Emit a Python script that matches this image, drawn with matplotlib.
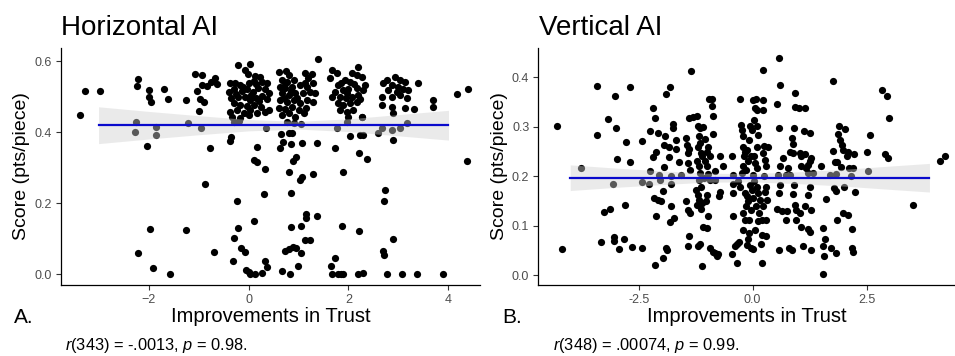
import numpy as np
import matplotlib.pyplot as plt

plt.rcParams['font.family'] = ['Liberation Sans', 'DejaVu Sans']
plt.rcParams['mathtext.fontset'] = 'custom'
plt.rcParams['mathtext.rm'] = 'Liberation Sans'
plt.rcParams['mathtext.it'] = 'Liberation Sans:italic'

# ---- Horizontal AI: (improvement in trust, score) ----
horiz_left = [
    (-3.37, .449), (-3.27, .516), (-2.98, .516), (-2.21, .550), (-2.23, .531),
    (-2.25, .430), (-2.27, .402), (-2.21, .059), (-1.99, .518), (-1.99, .500),
    (-1.95, .486), (-2.03, .360), (-1.98, .128), (-1.91, .016), (-1.86, .414),
    (-1.86, .392), (-1.69, .521), (-1.62, .493), (-1.58, .000), (-1.25, .492),
    (-1.21, .427), (-1.25, .125), (-1.07, .564), (-0.93, .561), (-1.03, .517),
    (-0.93, .533), (-0.99, .461), (-0.98, .493), (-0.89, .486), (-0.95, .412),
    (-0.78, .356), (-0.87, .253), (-0.83, .530), (-0.75, .543), (-0.67, .553),
    (-0.63, .536), (-0.70, .063),
]
horiz_c0 = [
    (-0.22, .590), (0.03, .594), (-0.07, .577), (-0.01, .564), (0.13, .559),
    (0.22, .557), (0.27, .543), (-0.37, .538), (-0.27, .540), (-0.17, .533),
    (0.00, .538), (0.10, .546), (0.37, .538), (-0.40, .515), (-0.30, .521),
    (-0.13, .517), (-0.03, .521), (0.08, .515), (0.19, .524), (0.32, .521),
    (0.40, .510), (-0.35, .496), (-0.21, .500), (-0.07, .500), (0.03, .491),
    (0.15, .496), (0.27, .502), (0.37, .493), (-0.30, .482), (-0.17, .477),
    (-0.03, .474), (0.10, .477), (0.25, .472), (-0.37, .458), (-0.23, .463),
    (-0.10, .455), (0.03, .463), (0.17, .454), (0.33, .458), (0.40, .463),
    (-0.33, .444), (-0.17, .439), (0.00, .449), (-0.30, .430), (-0.20, .433),
    (-0.12, .528), (0.05, .506), (0.21, .488), (-0.25, .508), (0.14, .536),
    (-0.35, .388), (-0.37, .375), (0.17, .358), (0.11, .322), (0.17, .315),
    (0.33, .296), (0.30, .226), (-0.23, .205), (0.10, .151), (-0.21, .131),
    (-0.30, .101), (-0.15, .073), (-0.07, .062), (-0.31, .038), (-0.05, .012),
    (0.00, .005), (0.13, .000), (0.02, .000), (0.27, .003), (0.33, .038),
    (0.37, .019), (0.35, .411),
]
horiz_c1 = [
    (0.60, .571), (0.75, .574), (0.81, .562), (0.67, .547), (0.77, .543),
    (0.90, .547), (1.13, .566), (1.27, .564), (1.20, .552), (1.40, .608),
    (0.63, .529), (0.73, .524), (0.87, .529), (1.03, .533), (1.17, .529),
    (1.30, .538), (0.67, .510), (0.80, .505), (0.93, .512), (1.08, .510),
    (1.23, .515), (1.33, .510), (0.63, .491), (0.77, .486), (0.90, .491),
    (1.03, .484), (1.17, .491), (1.30, .486), (0.60, .468), (0.73, .465),
    (0.87, .470), (1.00, .463), (1.15, .468), (0.67, .449), (0.80, .454),
    (0.93, .444), (1.10, .454), (0.77, .430), (0.90, .427), (1.05, .423),
    (0.70, .497), (0.84, .517), (0.97, .498), (1.12, .540), (0.72, .538),
    (0.65, .395), (0.69, .374), (0.63, .355), (0.80, .399), (0.87, .397),
    (0.85, .367), (0.88, .320), (0.95, .330), (0.80, .289), (1.02, .266),
    (1.07, .273), (1.30, .283), (1.38, .371), (1.07, .369), (0.85, .230),
    (1.15, .170), (1.14, .158), (1.37, .164), (1.05, .136), (0.85, .134),
    (0.73, .064), (0.80, .070), (0.88, .075), (0.95, .073), (1.05, .059),
    (1.13, .097), (1.23, .097), (0.99, .023), (0.67, .010), (0.83, .000),
]
horiz_c2 = [
    (1.68, .576), (1.77, .566), (1.63, .552), (2.20, .585), (2.07, .566),
    (2.17, .562), (2.27, .557), (1.93, .547), (2.03, .543), (2.33, .533),
    (1.80, .533), (1.73, .515), (1.90, .519), (2.00, .521), (2.17, .524),
    (2.30, .519), (1.67, .500), (1.83, .500), (1.95, .496), (2.07, .500),
    (2.20, .505), (1.79, .482), (1.90, .477), (2.03, .482), (2.17, .486),
    (1.83, .463), (1.97, .458), (2.10, .463), (2.00, .444), (2.28, .444),
    (2.12, .535), (1.86, .540), (2.24, .494), (1.97, .510),
    (1.97, .430), (1.77, .411), (2.27, .442), (1.73, .355), (1.89, .289),
    (2.03, .390), (2.22, .343), (2.23, .392), (2.30, .392), (2.37, .324),
    (1.87, .136), (2.22, .122), (1.73, .045), (1.65, .022), (1.67, .000),
    (1.80, .000), (1.85, .000), (1.90, .000), (2.20, .000), (2.30, .003),
]
horiz_c3 = [
    (2.77, .547), (2.93, .557), (3.03, .547), (3.13, .543), (2.70, .538),
    (2.87, .533), (3.00, .529), (2.80, .519), (2.97, .515), (3.10, .521),
    (3.20, .519), (2.67, .500), (2.87, .500), (3.03, .505), (3.17, .496),
    (3.40, .538), (2.67, .477), (2.87, .472), (3.13, .468), (3.32, .465),
    (2.90, .454), (3.70, .491), (3.70, .472), (2.60, .397), (2.67, .411),
    (2.87, .407), (3.03, .411), (3.18, .425), (2.90, .378), (2.73, .236),
    (2.71, .205), (2.90, .099), (2.70, .064), (2.71, .054), (2.77, .000),
    (3.07, .000), (3.37, .000), (3.90, .000), (4.18, .507), (4.40, .521),
    (4.37, .319),
]

# ---- Vertical AI ----
vert_left = [
    (-4.28, .301), (-4.19, .053), (-3.76, .217), (-3.42, .283), (-3.41, .383),
    (-3.33, .067), (-3.26, .127), (-3.17, .316), (-3.13, .134), (-3.04, .077),
    (-3.04, .068), (-3.02, .362), (-3.00, .297), (-3.06, .184), (-2.97, .235),
    (-2.92, .053), (-2.81, .072), (-2.79, .141), (-2.78, .269), (-2.68, .380),
    (-2.69, .229), (-2.65, .056), (-2.43, .272), (-2.42, .055), (-2.42, .189),
    (-2.25, .292), (-2.26, .211), (-2.27, .185), (-2.19, .338), (-2.18, .239),
    (-2.14, .318), (-2.16, .155), (-2.08, .152), (-2.13, .021), (-2.11, .119),
    (-2.11, .250), (-2.08, .287), (-2.06, .203), (-2.03, .192), (-2.00, .149),
    (-1.97, .034), (-1.97, .171), (-1.94, .219), (-1.92, .281), (-1.95, .264),
    (-1.89, .055), (-1.87, .050), (-1.89, .366), (-1.81, .380), (-1.83, .260),
    (-1.83, .238), (-1.78, .200), (-1.78, .184), (-1.81, .107), (-1.78, .139),
    (-1.74, .306), (-1.74, .297), (-1.72, .116), (-1.67, .274), (-1.69, .256),
    (-1.62, .229), (-1.56, .202),
]
vert_cm1 = [
    (-1.36, .414), (-1.39, .318), (-1.30, .320), (-1.45, .277), (-1.43, .263),
    (-1.41, .248), (-1.39, .255), (-1.41, .227), (-1.37, .212), (-1.45, .149),
    (-1.41, .131), (-1.37, .125), (-1.39, .078), (-1.41, .058), (-1.23, .321),
    (-1.19, .302), (-1.15, .297), (-1.18, .282), (-1.15, .267), (-1.19, .260),
    (-1.13, .247), (-1.12, .240), (-1.21, .230), (-1.17, .220), (-1.15, .206),
    (-1.18, .193), (-1.14, .179), (-1.24, .173), (-1.19, .163), (-1.18, .152),
    (-1.12, .146), (-1.23, .142), (-1.14, .134), (-1.19, .059), (-1.15, .063),
    (-1.10, .018), (-1.08, .299), (-1.05, .275), (-0.97, .260), (-1.01, .250),
    (-0.94, .241), (-1.05, .230), (-0.99, .220), (-0.97, .205), (-1.07, .196),
    (-0.94, .193), (-1.01, .163), (-1.02, .149), (-0.97, .119), (-1.08, .097),
    (-0.99, .095), (-0.94, .055), (-0.86, .046), (-0.95, .356), (-0.88, .356),
    (-0.90, .343), (-0.86, .321), (-0.86, .285), (-0.83, .193), (-0.83, .045),
    (-0.79, .038), (-0.75, .043), (-0.72, .241), (-0.72, .169), (-0.73, .159),
    (-0.64, .220), (-0.82, .210),
]
vert_c0 = [
    (-0.46, .241), (-0.42, .203), (-0.44, .184), (-0.42, .166), (-0.42, .119),
    (-0.46, .043), (-0.35, .024), (-0.39, .058), (-0.35, .063), (-0.29, .066),
    (-0.28, .356), (-0.26, .304), (-0.24, .293), (-0.22, .281), (-0.20, .260),
    (-0.17, .250), (-0.19, .240), (-0.20, .220), (-0.24, .206), (-0.31, .190),
    (-0.28, .179), (-0.17, .166), (-0.13, .159), (-0.10, .149), (-0.15, .139),
    (-0.20, .125), (-0.17, .112), (-0.22, .092), (-0.13, .061), (-0.10, .073),
    (-0.07, .086), (-0.04, .055), (0.00, .053), (0.01, .355), (0.05, .338),
    (0.03, .314), (0.07, .356), (0.09, .335), (0.10, .302), (0.12, .284),
    (0.09, .260), (0.03, .241), (0.05, .227), (0.09, .217), (0.00, .203),
    (0.03, .190), (0.09, .179), (0.12, .166), (0.16, .152), (0.07, .139),
    (0.15, .125), (0.20, .112), (0.11, .109), (0.05, .092), (0.18, .063),
    (0.20, .024), (0.22, .416), (0.23, .355), (0.25, .262), (0.23, .247),
    (0.27, .233), (0.29, .220), (0.25, .200), (0.29, .179), (0.27, .169),
    (0.32, .152), (0.23, .139), (0.29, .112), (0.20, .082), (0.29, .080),
    (0.22, .335), (0.34, .260), (-0.06, .301), (-0.02, .294), (-0.07, .274),
    (-0.13, .254), (-0.04, .240), (-0.10, .230), (-0.15, .213), (-0.06, .183),
    (-0.02, .173), (0.01, .156), (-0.04, .132), (-0.07, .112),
]
vert_c1 = [
    (0.58, .439), (0.61, .385), (0.54, .347), (0.58, .297), (0.61, .220),
    (0.56, .203), (0.60, .183), (0.57, .166), (0.53, .134), (0.64, .129),
    (0.58, .051), (0.67, .236), (0.82, .250), (0.89, .266), (0.86, .277),
    (0.91, .297), (0.93, .368), (0.93, .340), (1.02, .338), (1.15, .339),
    (1.13, .291), (1.26, .287), (0.89, .247), (0.91, .183), (0.89, .165),
    (0.93, .142), (0.96, .131), (1.04, .125), (0.96, .112), (1.07, .098),
    (1.04, .247), (1.07, .240), (1.15, .244), (1.22, .223), (1.18, .217),
    (1.26, .230), (1.29, .237), (1.22, .206), (1.26, .179), (1.22, .163),
    (1.15, .139), (1.22, .093), (1.26, .088), (1.29, .132), (1.29, .050),
    (0.86, .051), (0.80, .055), (0.75, .129), (0.73, .111), (0.78, .217),
    (0.82, .203), (0.73, .203), (1.11, .058), (1.07, .220), (1.33, .206),
]
vert_right = [
    (1.55, .003), (1.51, .221), (1.62, .154), (1.59, .072), (1.54, .058),
    (1.56, .039), (1.55, .095), (1.77, .392), (1.73, .055), (1.77, .252),
    (1.78, .176), (1.83, .171), (1.81, .228), (1.84, .045), (1.86, .112),
    (1.86, .228), (1.88, .286), (1.90, .301), (1.92, .274), (1.97, .263),
    (1.99, .254), (1.95, .219), (2.00, .179), (1.99, .125), (2.02, .295),
    (2.06, .240), (2.10, .250), (2.10, .122), (2.12, .217), (2.17, .055),
    (2.19, .093), (2.21, .046), (2.22, .244), (2.21, .217), (2.24, .169),
    (1.84, .205), (1.70, .203), (2.15, .200), (2.50, .250), (2.57, .284),
    (2.54, .210), (2.83, .375), (2.95, .362), (3.00, .318), (2.90, .244),
    (2.98, .237), (3.51, .142), (4.11, .231), (4.22, .241),
]

# fitted lm line and its confidence band (half widths)
h_fit_x = [-3, -2, -1, 0, 1, 2, 3, 4]
h_fit_y = 0.420
h_band = [0.052, 0.039, 0.027, 0.016, 0.011, 0.018, 0.030, 0.042]
v_fit_x = [-4.0, -3, -2, -1, 0, 1, 2, 3, 3.88]
v_fit_y = 0.197
v_band = [0.026, 0.0195, 0.014, 0.009, 0.0085, 0.012, 0.017, 0.0235, 0.029]

horiz = np.array(horiz_left + horiz_c0 + horiz_c1 + horiz_c2 + horiz_c3)
vert = np.array(vert_left + vert_cm1 + vert_c0 + vert_c1 + vert_right)

fig = plt.figure(figsize=(9.55, 3.56), dpi=100)
ax_h = fig.add_axes([0.0639, 0.2003, 0.4387, 0.664])
ax_v = fig.add_axes([0.5637, 0.2003, 0.4363, 0.664])


def draw_panel(ax, pts, fx, fy, band):
    ax.scatter(pts[:, 0], pts[:, 1], s=27, color='black', linewidths=0, zorder=2)
    fx = np.array(fx)
    band = np.array(band)
    ax.fill_between(fx, fy - band, fy + band, color='#d0d0d0', alpha=0.43,
                    linewidth=0, zorder=3)
    ax.plot([fx[0], fx[-1]], [fy, fy], color='#0a0acc', lw=1.6, zorder=4)
    for s in ['top', 'right']:
        ax.spines[s].set_visible(False)
    for s in ['left', 'bottom']:
        ax.spines[s].set_linewidth(0.9)
        ax.spines[s].set_color('black')
    ax.tick_params(length=3.5, width=0.8, color='#333333', labelsize=9,
                   labelcolor='#4d4d4d', pad=3)
    ax.set_ylabel('Score (pts/piece)', fontsize=14, labelpad=3)
    ax.set_xlabel('Improvements in Trust', fontsize=14.5, labelpad=1)


draw_panel(ax_h, horiz, h_fit_x, h_fit_y, h_band)
ax_h.set_xlim(-3.75, 4.63)
ax_h.set_ylim(-0.030, 0.637)
ax_h.set_xticks([-2, 0, 2, 4])
ax_h.set_yticks([0.0, 0.2, 0.4, 0.6])
ax_h.set_yticklabels(['0.0', '0.2', '0.4', '0.6'])

draw_panel(ax_v, vert, v_fit_x, v_fit_y, v_band)
ax_v.set_xlim(-4.70, 4.44)
ax_v.set_ylim(-0.0196, 0.459)
ax_v.set_xticks([-2.5, 0.0, 2.5])
ax_v.set_xticklabels(['-2.5', '0.0', '2.5'])
ax_v.set_yticks([0.0, 0.1, 0.2, 0.3, 0.4])
ax_v.set_yticklabels(['0.0', '0.1', '0.2', '0.3', '0.4'])

fig.text(0.064, 0.902, 'Horizontal AI', fontsize=20)
fig.text(0.564, 0.902, 'Vertical AI', fontsize=20)
fig.text(0.015, 0.093, 'A.', fontsize=15)
fig.text(0.526, 0.093, 'B.', fontsize=15)
fig.text(0.068, 0.016, r'$\it{r}$(343) = -.0013, $\it{p}$ = 0.98.', fontsize=11.8)
fig.text(0.579, 0.016, r'$\it{r}$(348) = .00074, $\it{p}$ = 0.99.', fontsize=11.8)

fig.savefig('out.png', dpi=100)
